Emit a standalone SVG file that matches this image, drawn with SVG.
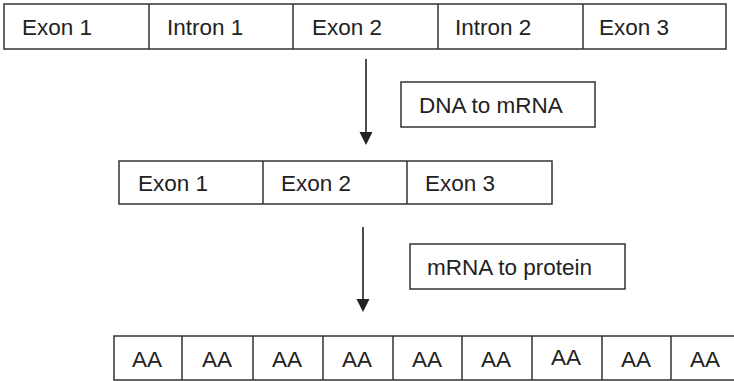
<svg xmlns="http://www.w3.org/2000/svg" width="734" height="381" viewBox="0 0 734 381">
<style>
.box{fill:#fff;stroke:#333;stroke-width:1.5}
.t{font-family:"Liberation Sans",Arial,sans-serif;font-size:22.5px;fill:#222}
.c{text-anchor:middle}
.conn{stroke:#222;stroke-width:1.6;fill:none}
.head{fill:#222}
</style>
<rect width="734" height="381" fill="#fff"/>
<g id="dna">
<rect class="box" x="4" y="4" width="722" height="45"/>
<line class="box" x1="149" y1="4" x2="149" y2="49"/>
<line class="box" x1="293" y1="4" x2="293" y2="49"/>
<line class="box" x1="438" y1="4" x2="438" y2="49"/>
<line class="box" x1="583" y1="4" x2="583" y2="49"/>
<text class="t" x="22" y="35">Exon 1</text>
<text class="t" x="167" y="35">Intron 1</text>
<text class="t" x="312" y="35">Exon 2</text>
<text class="t" x="455" y="35">Intron 2</text>
<text class="t" x="599" y="35">Exon 3</text>
</g>
<g id="label-dna-mrna">
<rect class="box" x="401" y="82" width="194" height="45"/>
<text class="t" x="419" y="113">DNA to mRNA</text>
</g>
<g id="mrna">
<rect class="box" x="119" y="161" width="433" height="43"/>
<line class="box" x1="263" y1="161" x2="263" y2="204"/>
<line class="box" x1="407" y1="161" x2="407" y2="204"/>
<text class="t" x="138" y="191">Exon 1</text>
<text class="t" x="281" y="191">Exon 2</text>
<text class="t" x="425" y="191">Exon 3</text>
</g>
<g id="label-mrna-protein">
<rect class="box" x="410" y="244" width="215" height="45"/>
<text class="t" x="427" y="275">mRNA to protein</text>
</g>
<g id="protein">
<rect class="box" x="114" y="336" width="627" height="44"/>
<line class="box" x1="182" y1="336" x2="182" y2="380"/>
<line class="box" x1="253" y1="336" x2="253" y2="380"/>
<line class="box" x1="323" y1="336" x2="323" y2="380"/>
<line class="box" x1="393" y1="336" x2="393" y2="380"/>
<line class="box" x1="462" y1="336" x2="462" y2="380"/>
<line class="box" x1="532" y1="336" x2="532" y2="380"/>
<line class="box" x1="602" y1="336" x2="602" y2="380"/>
<line class="box" x1="671" y1="336" x2="671" y2="380"/>
<text class="t c" x="147" y="367">AA</text>
<text class="t c" x="217" y="367">AA</text>
<text class="t c" x="287" y="367">AA</text>
<text class="t c" x="357" y="367">AA</text>
<text class="t c" x="427" y="367">AA</text>
<text class="t c" x="496" y="367">AA</text>
<text class="t c" x="566" y="365">AA</text>
<text class="t c" x="636" y="367">AA</text>
<text class="t c" x="705" y="367">AA</text>
</g>
<g id="connectors">
<line class="conn" x1="366" y1="59" x2="366" y2="133"/>
<path class="head" d="M359.5,132 L372.5,132 L366,145 Z"/>
<line class="conn" x1="363" y1="227" x2="363" y2="300"/>
<path class="head" d="M356.5,299 L369.5,299 L363,312 Z"/>
</g>
</svg>
